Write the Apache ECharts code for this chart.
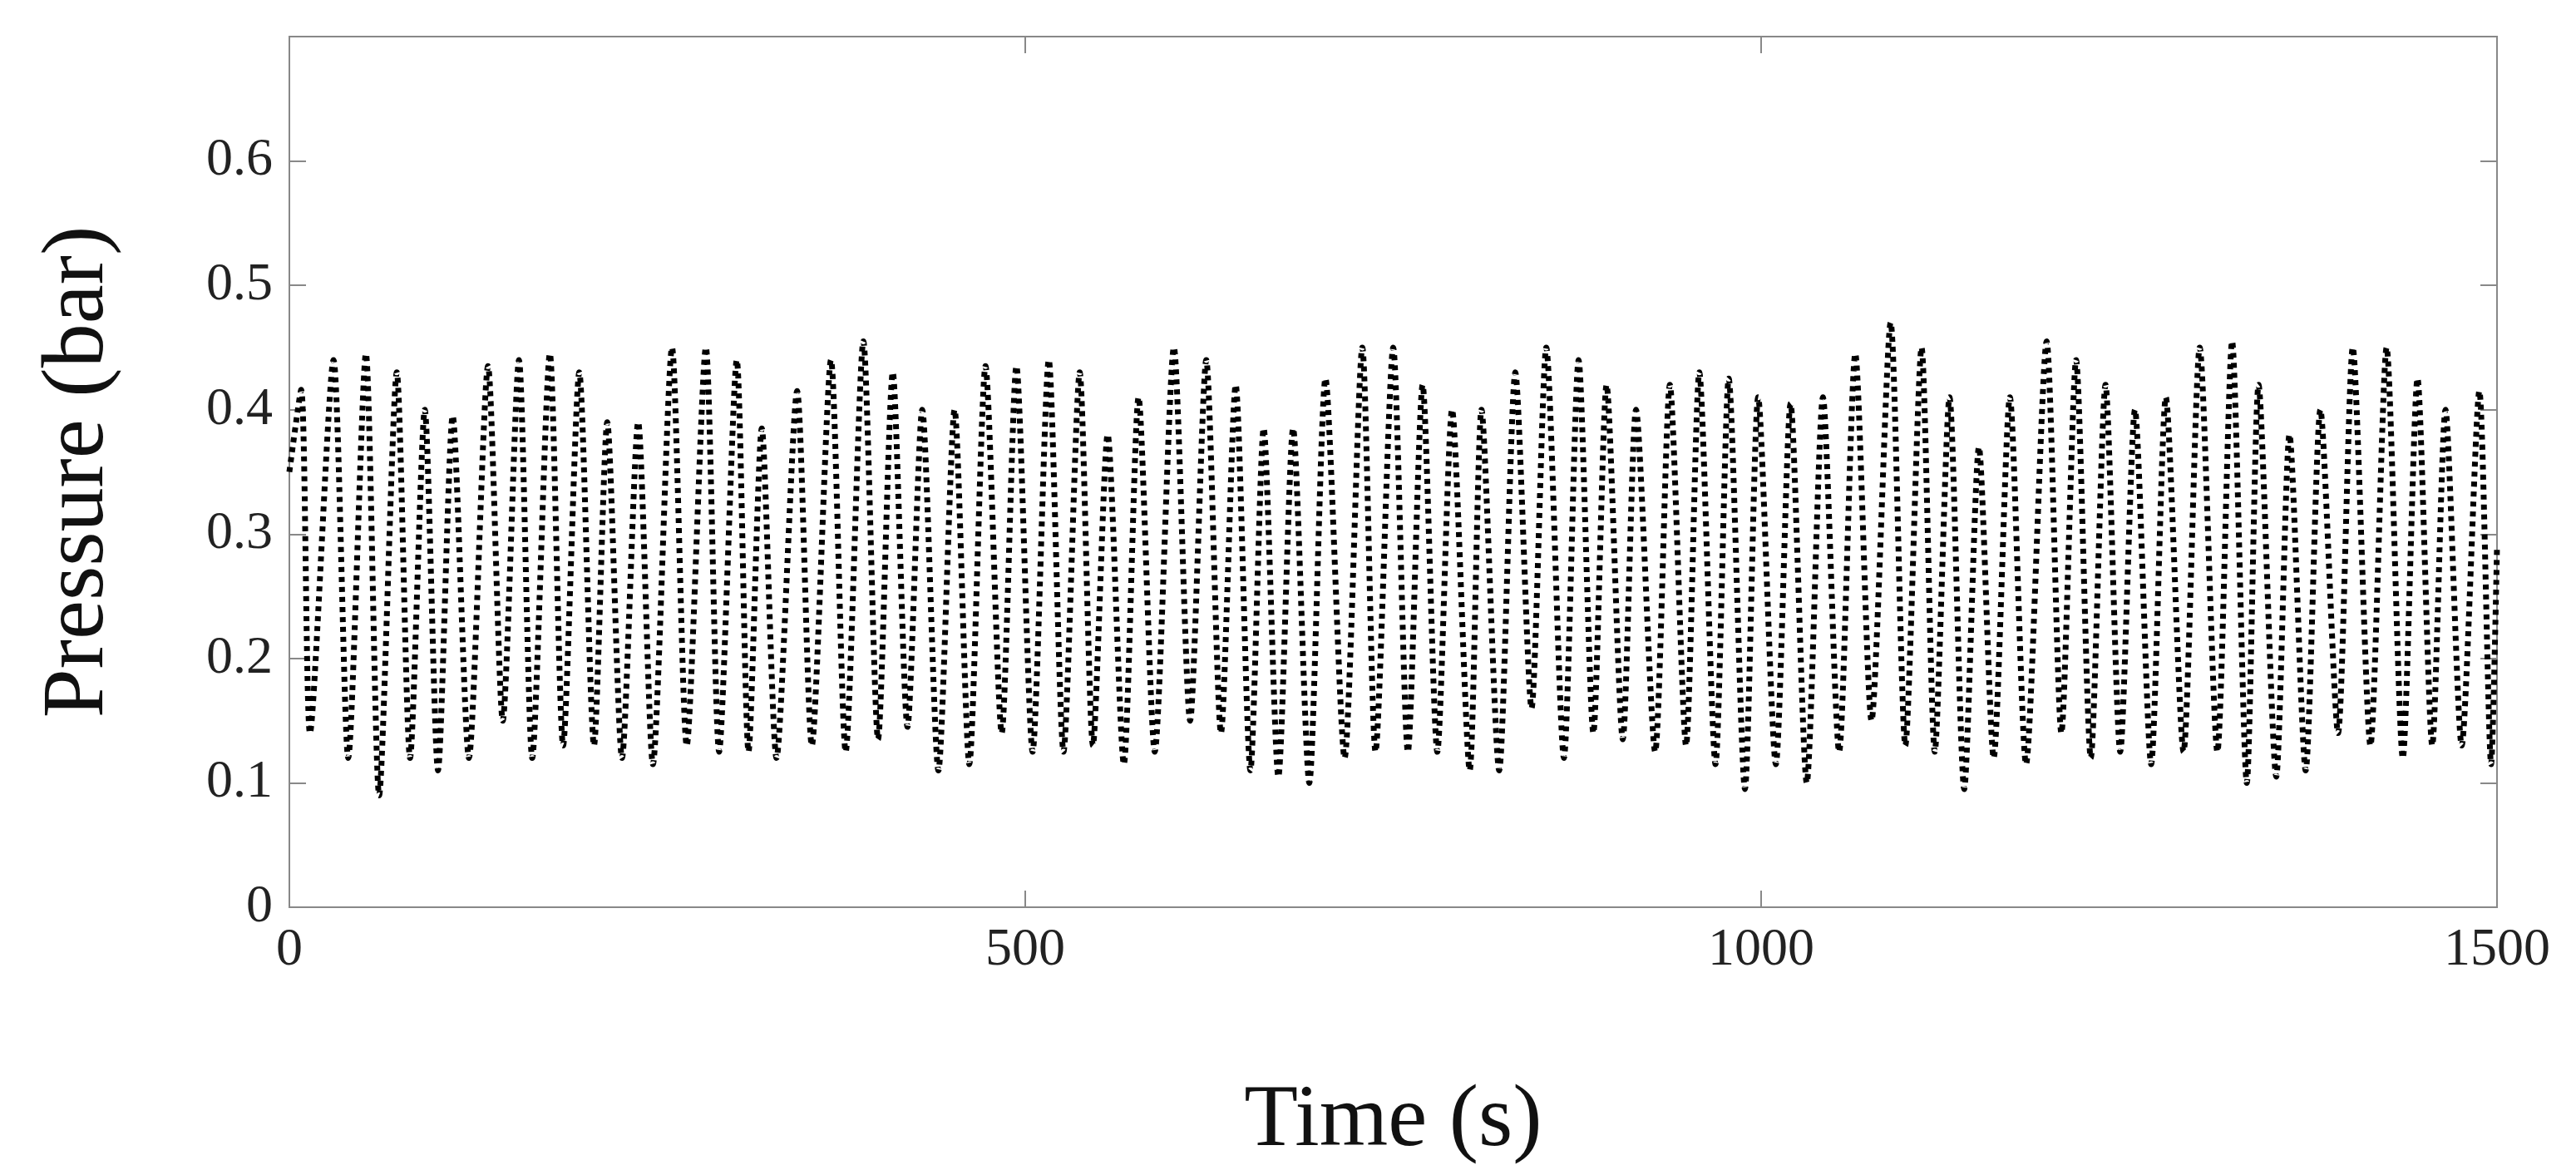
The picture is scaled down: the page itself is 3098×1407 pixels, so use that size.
<!DOCTYPE html>
<html><head><meta charset="utf-8">
<script src="https://cdn.jsdelivr.net/npm/echarts@6/dist/echarts.min.js"></script>
<style>html,body{margin:0;padding:0;background:#fff}#c{width:3098px;height:1407px}</style>
</head><body><div id="c"></div>
<script>
const times = [0,8,14,30,40,52,61,73,82,92,101,111,122,135,145,156,165,177,186,197,207,216,226,237,247,260,270,283,292,304,312,321,331,345,355,368,378,390,400,410,420,430,441,452,462,473,484,494,505,516,526,537,546,556,567,577,588,601,612,623,633,643,653,662,672,682,693,704,717,729,738,750,760,770,780,790,802,810,822,833,844,854,866,876,886,895,906,915,928,938,949,958,969,978,989,998,1010,1020,1031,1042,1053,1064,1075,1088,1098,1109,1118,1128,1138,1148,1158,1169,1180,1194,1204,1214,1224,1234,1244,1254,1265,1275,1287,1298,1310,1320,1330,1338,1350,1359,1370,1380,1392,1402,1414,1425,1436,1446,1456,1465,1476,1488,1496,1500];
const pressure = [0.35,0.416,0.14,0.44,0.12,0.445,0.09,0.43,0.12,0.40,0.11,0.395,0.12,0.435,0.15,0.44,0.12,0.445,0.13,0.43,0.13,0.39,0.12,0.39,0.115,0.45,0.13,0.45,0.125,0.44,0.125,0.385,0.12,0.415,0.13,0.44,0.125,0.455,0.135,0.43,0.145,0.40,0.11,0.40,0.115,0.435,0.14,0.435,0.125,0.44,0.125,0.43,0.13,0.38,0.115,0.41,0.125,0.45,0.15,0.44,0.14,0.42,0.11,0.385,0.105,0.385,0.10,0.425,0.12,0.45,0.125,0.45,0.125,0.42,0.125,0.40,0.11,0.40,0.11,0.43,0.16,0.45,0.12,0.44,0.14,0.42,0.135,0.40,0.125,0.42,0.13,0.43,0.115,0.425,0.095,0.41,0.115,0.405,0.10,0.41,0.125,0.445,0.15,0.47,0.13,0.45,0.125,0.41,0.095,0.37,0.12,0.41,0.115,0.455,0.14,0.44,0.12,0.42,0.125,0.40,0.115,0.41,0.125,0.45,0.125,0.455,0.10,0.42,0.105,0.38,0.11,0.40,0.14,0.45,0.13,0.45,0.12,0.425,0.13,0.40,0.13,0.415,0.115,0.29];
const xTicks = [0,500,1000,1500];
const yTicks = [0,0.1,0.2,0.3,0.4,0.5,0.6];

const font = 'Liberation Serif';
const axisCol = '#888';
const tick = {show:true,inside:true,length:20,lineStyle:{color:axisCol,width:2}};
const line = {show:true,onZero:false,lineStyle:{color:axisCol,width:2}};
const chart = echarts.init(document.getElementById('c'));
chart.setOption({
  animation:false,
  grid:{left:348,right:95,top:44,bottom:290,show:true,borderColor:axisCol,borderWidth:2},
  xAxis:[{type:'value',min:0,max:1500,interval:500,
    name:'Time (s)',nameLocation:'middle',nameGap:205,
    nameTextStyle:{fontFamily:font,fontSize:106,color:'#111'},
    axisLine:line,axisTick:tick,
    axisLabel:{fontFamily:font,fontSize:64,color:'#222',margin:20,
      formatter:v=>xTicks.includes(v)?String(v):''},
    splitLine:{show:false}},
   {type:'value',position:'top',min:0,max:1500,interval:500,
    axisLine:line,axisTick:tick,axisLabel:{show:false},splitLine:{show:false}}],
  yAxis:[{type:'value',min:0,max:0.7,interval:0.1,
    name:'Pressure (bar)',nameLocation:'middle',nameGap:200,
    nameTextStyle:{fontFamily:font,fontSize:106,color:'#111'},
    axisLine:line,axisTick:tick,
    axisLabel:{fontFamily:font,fontSize:64,color:'#222',margin:20,
      formatter:v=>yTicks.some(t=>Math.abs(t-v)<1e-9)?(+v.toFixed(1)).toString():''},
    splitLine:{show:false}},
   {type:'value',position:'right',min:0,max:0.7,interval:0.1,
    axisLine:line,axisTick:tick,axisLabel:{show:false},splitLine:{show:false}}],
  series:[{type:'line',data:times.map((t,i)=>[t,pressure[i]]),showSymbol:false,smooth:0.25,
    lineStyle:{color:'#000',width:7,type:[6,6]}},
    {type:'line',xAxisIndex:1,yAxisIndex:1,data:[],showSymbol:false}]
});
</script></body></html>
